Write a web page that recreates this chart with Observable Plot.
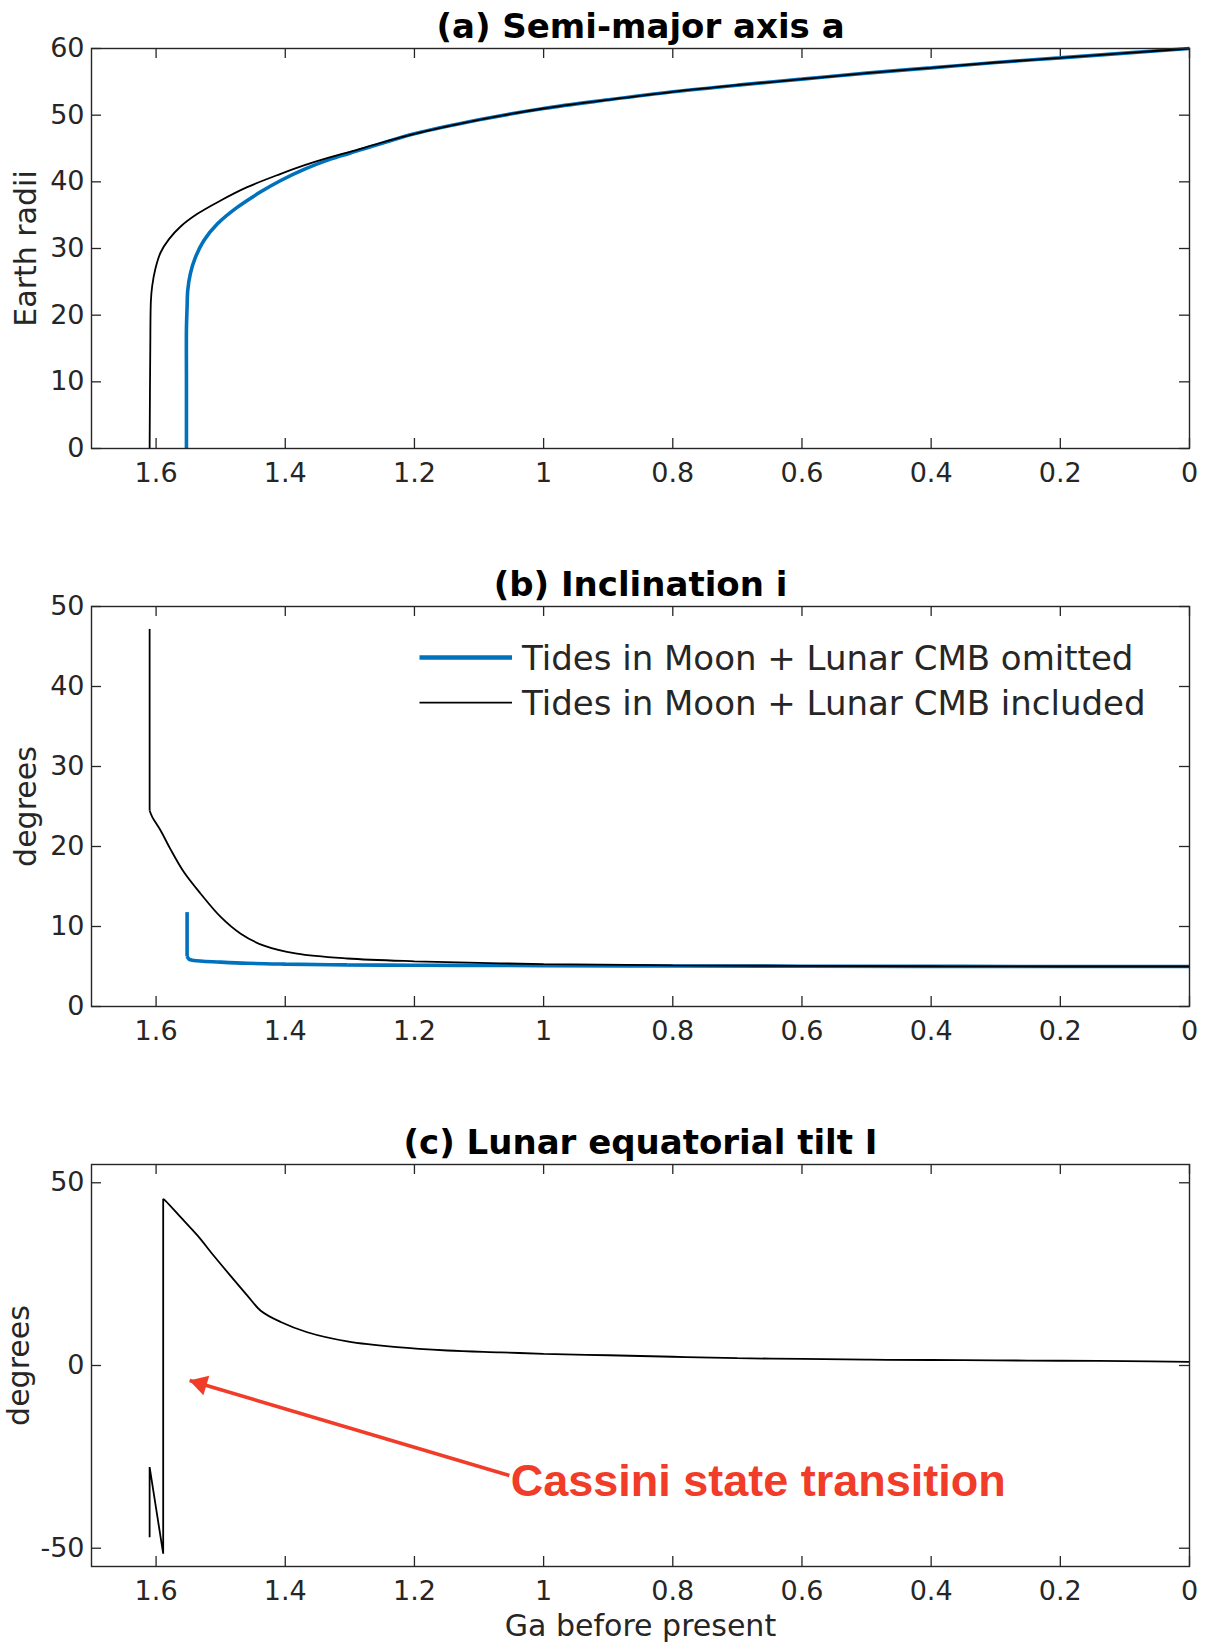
<!DOCTYPE html>
<html><head><meta charset="utf-8">
<script src="https://cdn.jsdelivr.net/npm/d3@7"></script>
<script src="https://cdn.jsdelivr.net/npm/@observablehq/plot@0.6"></script>
<style>
html,body{margin:0;padding:0;background:#fff;}
#wrap{position:relative;width:1206px;height:1644px;overflow:hidden;}
#wrap > svg{display:block;}
#legend{position:absolute;left:0;top:0;pointer-events:none;}
</style></head><body><div id="wrap"></div>
<script>
// ---- shared axis data ----
const xTicks = [1.6, 1.4, 1.2, 1, 0.8, 0.6, 0.4, 0.2, 0];
const xDomain = [1.7, 0];
const titles = ["(a) Semi-major axis a", "(b) Inclination i", "(c) Lunar equatorial tilt I"];
const yLabels = ["Earth radii", "degrees", "degrees"];
const xLabel = "Ga before present";
const seriesNames = ["Tides in Moon + Lunar CMB omitted", "Tides in Moon + Lunar CMB included"];
const seriesColors = ["#0072bd", "#000000"];

// ---- (a) semi-major axis (Earth radii) ----
const aYTicks = [0, 10, 20, 30, 40, 50, 60];
const aOmittedT = [1.553, 1.553, 1.553, 1.552, 1.551, 1.547, 1.539, 1.526, 1.505, 1.474, 1.438, 1.407, 1.37, 1.33, 1.3, 1.25, 1.2, 1.1, 1.0, 0.9, 0.8, 0.7, 0.6, 0.5, 0.4, 0.3, 0.2, 0.1, 0];
const aOmittedV = [0, 10, 18, 21.2, 23.7, 26.2, 28.7, 31.2, 33.7, 36.2, 38.5, 40.2, 41.9, 43.4, 44.3, 45.8, 47.2, 49.3, 51.0, 52.3, 53.5, 54.5, 55.4, 56.3, 57.1, 57.9, 58.6, 59.3, 60];
const aIncludedT = [1.610, 1.609, 1.608, 1.606, 1.601, 1.593, 1.580, 1.562, 1.536, 1.500, 1.459, 1.407, 1.37, 1.33, 1.3, 1.25, 1.2, 1.1, 1.0, 0.9, 0.8, 0.7, 0.6, 0.5, 0.4, 0.3, 0.2, 0.1, 0];
const aIncludedV = [0, 15, 22.2, 24.4, 27.0, 29.4, 31.4, 33.3, 35.2, 37.2, 39.2, 41.2, 42.5, 43.7, 44.5, 45.9, 47.2, 49.3, 51.0, 52.3, 53.5, 54.5, 55.4, 56.3, 57.1, 57.9, 58.6, 59.3, 60];

// ---- (b) inclination (degrees) ----
const bYTicks = [0, 10, 20, 30, 40, 50];
const bOmittedJumpT = [1.552, 1.552];
const bOmittedJumpV = [11.8, 6.3];
const bOmittedT = [1.552, 1.549, 1.542, 1.5, 1.459, 1.4, 1.304, 1.2, 1.1, 1.0, 0.8, 0.6, 0.4, 0.2, 0];
const bOmittedV = [6.3, 5.9, 5.75, 5.55, 5.4, 5.3, 5.2, 5.15, 5.13, 5.1, 5.07, 5.04, 5.02, 5.0, 5.0];
const bIncludedJumpT = [1.610, 1.610];
const bIncludedJumpV = [47.2, 24.5];
const bIncludedT = [1.610, 1.606, 1.593, 1.578, 1.557, 1.531, 1.500, 1.469, 1.433, 1.382, 1.304, 1.2, 1.1, 1.0, 0.8, 0.6, 0.4, 0.2, 0];
const bIncludedV = [24.5, 23.7, 22.0, 19.7, 16.8, 14.1, 11.2, 9.1, 7.6, 6.6, 6.0, 5.65, 5.45, 5.3, 5.15, 5.07, 5.03, 5.0, 5.0];

// ---- (c) lunar equatorial tilt (degrees) ----
const cYTicks = [-50, 0, 50];
const cJumpT = [1.610, 1.610, 1.589, 1.589];
const cJumpV = [-47.0, -27.8, -51.5, 45.6];
const cIncludedT = [1.589, 1.585, 1.562, 1.536, 1.511, 1.485, 1.459, 1.438, 1.407, 1.366, 1.304, 1.227, 1.149, 1.067, 1.0, 0.9, 0.8, 0.7, 0.6, 0.5, 0.4, 0.3, 0.2, 0.1, 0];
const cIncludedV = [45.6, 45.0, 40.6, 35.6, 30.1, 24.6, 19.2, 15.0, 11.9, 9.1, 6.6, 5.0, 4.1, 3.6, 3.2, 2.8, 2.4, 2.0, 1.8, 1.6, 1.5, 1.4, 1.3, 1.2, 1.0];

// ---- annotation (data coordinates of panel c) ----
const noteText = "Cassini state transition";
const noteArrow = [{x1: 1.053, y1: -30.1, x2: 1.548, y2: -4.1}];
const noteTextPos = [{x: 1.051, y: -35.6}];

// ---- helpers ----
const ink = "#262626";
const W = 1206, ML = 91, MR = 17;
const rows = (ts, vs) => ts.map((t, i) => ({t, v: vs[i]}));
const fmtX = d => String(+(+d).toFixed(1));
const fmtY = d => String(d);

function panel({height, mt, mb, yDomain, yTicks, title, ylabel, ylabelDx, lines, extra = []}) {
  const plotH = height - mt - mb, plotW = W - ML - MR;
  return Plot.plot({
    width: W, height, marginLeft: ML, marginRight: MR, marginTop: mt, marginBottom: mb,
    style: {fontFamily: "DejaVu Sans", fontSize: "27px", color: ink, background: "white", overflow: "visible"},
    x: {domain: xDomain},
    y: {domain: yDomain},
    marks: [
      Plot.axisX({ticks: xTicks, tickSize: 0, tickPadding: 14, tickFormat: fmtX, label: null}),
      Plot.axisY({ticks: yTicks, tickSize: 0, tickPadding: 7, tickFormat: fmtY, label: null}),
      Plot.tickX(xTicks, {x: d => d, stroke: ink, strokeWidth: 1.3, insetTop: plotH - 10}),
      Plot.tickX(xTicks, {x: d => d, stroke: ink, strokeWidth: 1.3, insetBottom: plotH - 10}),
      Plot.tickY(yTicks, {y: d => d, stroke: ink, strokeWidth: 1.3, insetRight: plotW - 10}),
      Plot.tickY(yTicks, {y: d => d, stroke: ink, strokeWidth: 1.3, insetLeft: plotW - 10}),
      ...lines.map(l => Plot.line(l.data, {x: "t", y: "v", stroke: l.color, strokeWidth: l.width,
        curve: l.curve || "linear", strokeLinejoin: "miter", strokeLinecap: "butt"})),
      Plot.frame({stroke: ink, strokeWidth: 1.4}),
      Plot.text([title], {frameAnchor: "top", dy: -11, lineAnchor: "bottom", fontWeight: "bold", fontSize: 34, fill: "#000"}),
      Plot.text([ylabel], {frameAnchor: "left", textAnchor: "middle", lineAnchor: "middle", rotate: -90, dx: ylabelDx, fontSize: 30, fill: ink}),
      ...extra
    ]
  });
}

const wrap = document.getElementById("wrap");

wrap.appendChild(panel({
  height: 530, mt: 48, mb: 82, yDomain: [0, 60], yTicks: aYTicks,
  title: titles[0], ylabel: yLabels[0], ylabelDx: -65,
  lines: [
    {data: rows(aOmittedT, aOmittedV), color: seriesColors[0], width: 3.6, curve: "catmull-rom"},
    {data: rows(aIncludedT, aIncludedV), color: seriesColors[1], width: 1.8, curve: "catmull-rom"}
  ]
}));

wrap.appendChild(panel({
  height: 560, mt: 76, mb: 84, yDomain: [0, 50], yTicks: bYTicks,
  title: titles[1], ylabel: yLabels[1], ylabelDx: -65,
  lines: [
    {data: rows(bOmittedJumpT, bOmittedJumpV), color: seriesColors[0], width: 3.6},
    {data: rows(bOmittedT, bOmittedV), color: seriesColors[0], width: 3.6, curve: "catmull-rom"},
    {data: rows(bIncludedJumpT, bIncludedJumpV), color: seriesColors[1], width: 1.8},
    {data: rows(bIncludedT, bIncludedV), color: seriesColors[1], width: 1.8, curve: "catmull-rom"}
  ]
}));

const red = "#f03c28";
wrap.appendChild(panel({
  height: 554, mt: 74, mb: 78, yDomain: [-55, 55], yTicks: cYTicks,
  title: titles[2], ylabel: yLabels[2], ylabelDx: -72,
  lines: [
    {data: rows(cJumpT, cJumpV), color: seriesColors[1], width: 1.8},
    {data: rows(cIncludedT, cIncludedV), color: seriesColors[1], width: 1.8, curve: "catmull-rom"}
  ],
  extra: [
    Plot.link(noteArrow, {x1: "x1", y1: "y1", x2: "x2", y2: "y2", stroke: red, strokeWidth: 3.6}),
    Plot.dot(noteArrow, {x: "x2", y: "y2", symbol: "triangle", r: 7.6, fill: red, stroke: "none", rotate: -73.4, dx: 11, dy: 3.3}),
    Plot.text(noteTextPos, {x: "x", y: "y", text: () => noteText, textAnchor: "start", lineAnchor: "bottom",
      fontFamily: "Liberation Sans", fontWeight: "bold", fontSize: 45, fill: red}),
    Plot.text([xLabel], {frameAnchor: "bottom", lineAnchor: "middle", textAnchor: "middle", dy: 60, fontSize: 30, fill: ink})
  ]
}));

// ---- legend for panel (b), overlaid inside its frame ----
const ns = "http://www.w3.org/2000/svg";
const leg = document.createElementNS(ns, "svg");
leg.setAttribute("id", "legend");
leg.setAttribute("width", W);
leg.setAttribute("height", 1644);
const legY = [657.6, 702.6];
seriesNames.forEach((name, i) => {
  const ln = document.createElementNS(ns, "line");
  ln.setAttribute("x1", 419.5); ln.setAttribute("x2", 512);
  ln.setAttribute("y1", legY[i]); ln.setAttribute("y2", legY[i]);
  ln.setAttribute("stroke", seriesColors[i]);
  ln.setAttribute("stroke-width", i === 0 ? 4.5 : 1.8);
  leg.appendChild(ln);
  const tx = document.createElementNS(ns, "text");
  tx.setAttribute("x", 522); tx.setAttribute("y", legY[i]);
  tx.setAttribute("dy", "0.36em");
  tx.setAttribute("font-family", "DejaVu Sans");
  tx.setAttribute("font-size", 34);
  tx.setAttribute("fill", ink);
  tx.textContent = name;
  leg.appendChild(tx);
});
wrap.appendChild(leg);
</script></body></html>
